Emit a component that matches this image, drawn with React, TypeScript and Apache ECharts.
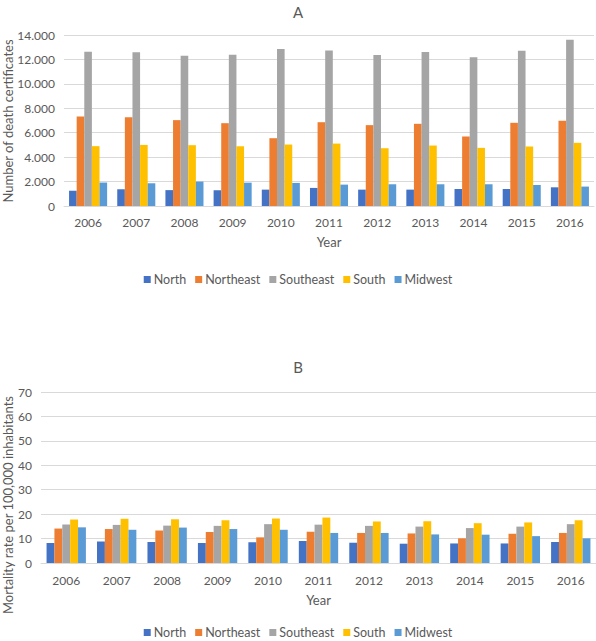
import React, { useEffect, useRef } from "react";
import * as echarts from "echarts";

const years = ["2006", "2007", "2008", "2009", "2010", "2011", "2012", "2013", "2014", "2015", "2016"];
const regions = ["North", "Northeast", "Southeast", "South", "Midwest"];
const colors = ["#4472C4", "#ED7D31", "#A5A5A5", "#FFC000", "#5B9BD5"];

// Panel A: number of death certificates
const deathNorth = [1250, 1370, 1300, 1290, 1340, 1480, 1340, 1340, 1390, 1390, 1530];
const deathNortheast = [7330, 7270, 7030, 6780, 5550, 6860, 6620, 6730, 5690, 6810, 6970];
const deathSoutheast = [12630, 12580, 12300, 12390, 12850, 12740, 12360, 12610, 12170, 12720, 13620];
const deathSouth = [4900, 5000, 4980, 4890, 5030, 5110, 4730, 4950, 4760, 4870, 5170];
const deathMidwest = [1920, 1860, 2000, 1910, 1890, 1750, 1780, 1780, 1780, 1720, 1590];

// Panel B: mortality rate per 100,000 inhabitants
const rateNorth = [8.2, 8.8, 8.6, 8.2, 8.5, 9.0, 8.3, 7.9, 8.0, 8.0, 8.6];
const rateNortheast = [14.1, 13.9, 13.3, 12.7, 10.5, 12.8, 12.3, 12.1, 10.1, 12.0, 12.3];
const rateSoutheast = [15.8, 15.6, 15.3, 15.2, 15.9, 15.7, 15.2, 14.9, 14.3, 14.9, 15.9];
const rateSouth = [17.8, 18.1, 17.9, 17.5, 18.2, 18.6, 17.0, 17.1, 16.3, 16.6, 17.5];
const rateMidwest = [14.6, 13.6, 14.5, 13.9, 13.6, 12.3, 12.3, 11.7, 11.6, 11.0, 10.1];

const deathSeries = [deathNorth, deathNortheast, deathSoutheast, deathSouth, deathMidwest];
const rateSeries = [rateNorth, rateNortheast, rateSoutheast, rateSouth, rateMidwest];

const FONT = "Lato";
const TXT = "#595959";
const GRID = "#D9D9D9";

function dotted(v: number): string {
  return String(v).replace(/\B(?=(\d{3})+(?!\d))/g, ".");
}

export default function App() {
  const ref = useRef<HTMLDivElement>(null);
  useEffect(() => {
    document.body.style.margin = "0";
    if (!ref.current) return;
    const chart = echarts.init(ref.current, null, { renderer: "svg" });
    const xAxisBase = (gridIndex: number, margin: number, nameGap: number) => ({
      type: "category" as const,
      gridIndex,
      data: years,
      boundaryGap: true,
      axisTick: { show: false },
      axisLine: { lineStyle: { color: GRID, width: 1 } },
      axisLabel: { color: TXT, fontSize: 12, fontFamily: FONT, margin },
      name: "Year",
      nameLocation: "middle" as const,
      nameGap,
      nameTextStyle: { color: TXT, fontSize: 13, fontFamily: FONT },
    });
    const series: any[] = [];
    regions.forEach((r, i) => {
      series.push({
        name: r,
        type: "bar",
        xAxisIndex: 0,
        yAxisIndex: 0,
        data: deathSeries[i],
        itemStyle: { color: colors[i] },
        barGap: "0%",
        barCategoryGap: "21%",
      });
    });
    regions.forEach((r, i) => {
      series.push({
        name: r,
        type: "bar",
        xAxisIndex: 1,
        yAxisIndex: 1,
        data: rateSeries[i],
        itemStyle: { color: colors[i] },
        barGap: "0%",
        barCategoryGap: "22%",
      });
    });
    const legendBase = {
      data: regions,
      left: "center",
      itemWidth: 7,
      itemHeight: 7,
      itemGap: 9,
      icon: "rect",
      padding: 0,
      selectedMode: false,
      textStyle: { color: TXT, fontSize: 12.5, fontFamily: FONT, padding: [0, 0, 0, -2] },
    };
    chart.setOption({
      animation: false,
      backgroundColor: "#ffffff",
      textStyle: { fontFamily: FONT },
      title: [
        { text: "A", left: "center", top: -1, textStyle: { color: TXT, fontSize: 15, fontWeight: "normal", fontFamily: FONT } },
        { text: "B", left: "center", top: 354, textStyle: { color: TXT, fontSize: 15, fontWeight: "normal", fontFamily: FONT } },
      ],
      legend: [
        { ...legendBase, top: 273 },
        { ...legendBase, top: 626 },
      ],
      grid: [
        { left: 64, right: 2, top: 35, height: 171, outerBoundsMode: "none", containLabel: false },
        { left: 41, right: 0, top: 392, height: 171, outerBoundsMode: "none", containLabel: false },
      ],
      xAxis: [xAxisBase(0, 10, 29), xAxisBase(1, 11, 30)],
      yAxis: [
        {
          type: "value",
          gridIndex: 0,
          min: 0,
          max: 14000,
          interval: 2000,
          axisLine: { show: false },
          axisTick: { show: false },
          splitLine: { lineStyle: { color: GRID, width: 1 } },
          axisLabel: { color: TXT, fontSize: 12, fontFamily: FONT, margin: 9, formatter: (v: number) => dotted(v) },
        },
        {
          type: "value",
          gridIndex: 1,
          min: 0,
          max: 70,
          interval: 10,
          axisLine: { show: false },
          axisTick: { show: false },
          splitLine: { lineStyle: { color: GRID, width: 1 } },
          axisLabel: { color: TXT, fontSize: 12, fontFamily: FONT, margin: 9 },
        },
      ],
      graphic: [
        {
          type: "text",
          x: 8,
          y: 121,
          rotation: Math.PI / 2,
          style: {
            text: "Number of death certificates",
            fill: TXT,
            fontSize: 13,
            fontFamily: FONT,
            textAlign: "center",
            textVerticalAlign: "middle",
          },
        },
        {
          type: "text",
          x: 8,
          y: 505,
          rotation: Math.PI / 2,
          style: {
            text: "Mortality rate per 100,000 inhabitants",
            fill: TXT,
            fontSize: 13,
            fontFamily: FONT,
            textAlign: "center",
            textVerticalAlign: "middle",
          },
        },
      ],
      series,
    });
    return () => chart.dispose();
  }, []);
  return <div ref={ref} style={{ width: 596, height: 641 }} />;
}
